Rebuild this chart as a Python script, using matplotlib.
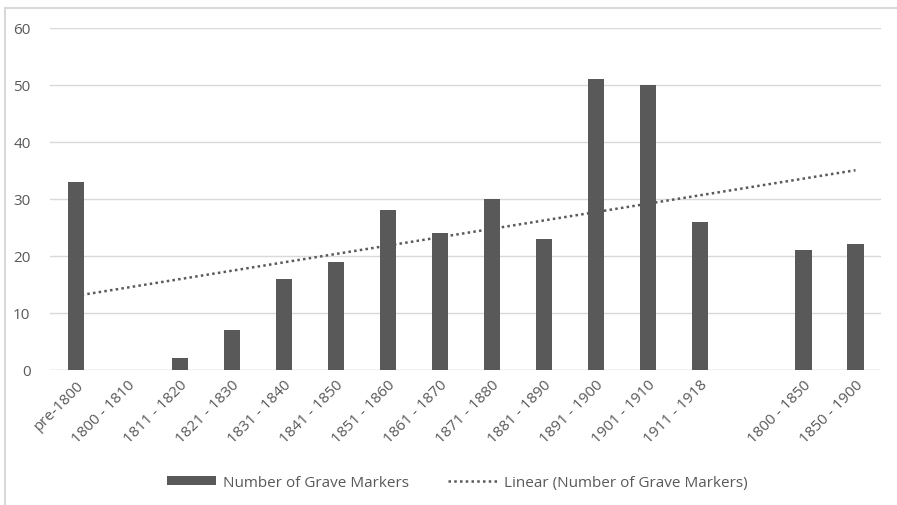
import numpy as np
import matplotlib.pyplot as plt
from matplotlib.patches import Rectangle

# categories, the 14th slot is an empty gap in the original chart
categories = ['pre-1800', '1800 - 1810', '1811 - 1820', '1821 - 1830', '1831 - 1840',
              '1841 - 1850', '1851 - 1860', '1861 - 1870', '1871 - 1880', '1881 - 1890',
              '1891 - 1900', '1901 - 1910', '1911 - 1918', '', '1800 - 1850', '1850 - 1900']
markers = [33, 0, 2, 7, 16, 19, 28, 24, 30, 23, 51, 50, 26, np.nan, 21, 22]
yticks = [0, 10, 20, 30, 40, 50, 60]

bar_col = '#595959'
grid_col = '#d9d9d9'
txt_col = '#595959'

plt.rcParams['font.family'] = ['Open Sans', 'DejaVu Sans']

fig = plt.figure(figsize=(8.97, 5.06), dpi=100)
ax = fig.add_axes([0.0557, 0.267, 0.927, 0.676])

x = np.arange(len(categories))
y = np.array(markers, dtype=float)
bars = ax.bar(x, np.nan_to_num(y), width=0.31, color=bar_col, zorder=3)

# linear trendline (excel style, skipping the empty category)
ok = ~np.isnan(y)
k, b = np.polyfit(x[ok] + 1, y[ok], 1)
trend, = ax.plot(x, k * (x + 1) + b, color=bar_col, lw=1.8, ls=(0, (1, 1.3)), zorder=4)

ax.set_xlim(-0.5, len(categories) - 0.5)
ax.set_ylim(0, 60)
ax.set_yticks(yticks)
ax.set_xticks(x)
ax.set_xticklabels(categories)
ax.tick_params(axis='both', length=0, labelsize=11, colors=txt_col)
ax.tick_params(axis='x', pad=5)
ax.tick_params(axis='y', pad=14)
plt.setp(ax.get_xticklabels(), rotation=45, ha='right', va='top', rotation_mode='anchor')
ax.grid(axis='y', color=grid_col, lw=1, zorder=0)
for s in ax.spines.values():
    s.set_visible(False)
ax.axhline(0, color=grid_col, lw=1, zorder=2)

ax.legend([bars, trend], ['Number of Grave Markers', 'Linear (Number of Grave Markers)'],
          loc='center', bbox_to_anchor=(0.49, -0.33), ncol=2, frameon=False,
          fontsize=11, labelcolor=txt_col, handlelength=3.2, handleheight=0.55,
          columnspacing=2.5, handletextpad=0.5)

# light chart-area border
fig.patches.append(Rectangle((5 / 897, -0.1), 1.2, (506 - 9) / 506 + 0.1,
                             transform=fig.transFigure, fill=False,
                             edgecolor=grid_col, lw=1.5))

plt.savefig('out.png', dpi=100)
